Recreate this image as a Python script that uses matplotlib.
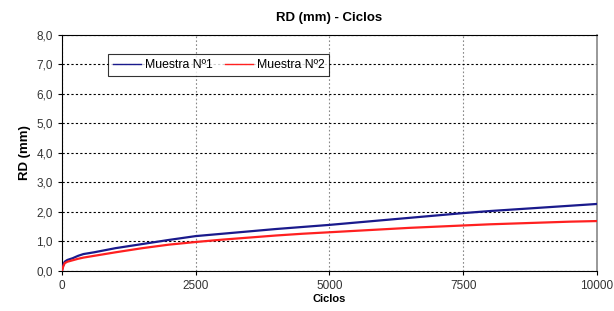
import matplotlib
matplotlib.use("Agg")
from matplotlib import pyplot as plt

plt.rcParams['font.family'] = ['Liberation Sans', 'DejaVu Sans']

# Data
ciclos = [0, 25, 50, 100, 200, 300, 400, 600, 800, 1000, 1500, 2000, 2500,
          3000, 3500, 4000, 4500, 5000, 5500, 6000, 6500, 7000, 7500,
          8000, 8500, 9000, 9500, 10000]
muestra_1 = [0.0, 0.2, 0.3, 0.36, 0.42, 0.5, 0.56, 0.62, 0.69, 0.76, 0.9, 1.04, 1.17,
             1.25, 1.33, 1.41, 1.48, 1.55, 1.63, 1.71, 1.79, 1.87, 1.95,
             2.02, 2.08, 2.14, 2.2, 2.26]
muestra_2 = [0.0, 0.15, 0.25, 0.3, 0.35, 0.4, 0.44, 0.5, 0.56, 0.62, 0.76, 0.88, 0.97,
             1.05, 1.12, 1.19, 1.25, 1.3, 1.35, 1.4, 1.45, 1.49, 1.53,
             1.57, 1.6, 1.63, 1.66, 1.68]
x_ticks = [0, 2500, 5000, 7500, 10000]
y_ticks = [0, 1, 2, 3, 4, 5, 6, 7, 8]

fig = plt.figure(figsize=(6.14, 3.11), dpi=100)
ax = fig.add_axes([0.101, 0.13, 0.871, 0.758])

ax.plot(ciclos, muestra_1, color='#1a1a8c', lw=1.6, label='Muestra Nº1', zorder=3)
ax.plot(ciclos, muestra_2, color='#ff2020', lw=1.6, label='Muestra Nº2', zorder=3)

ax.set_xlim(0, 10000)
ax.set_ylim(0, 8)
ax.set_xticks(x_ticks)
ax.set_yticks(y_ticks)
ax.set_yticklabels([f"{v:.1f}".replace('.', ',') for v in y_ticks])
ax.tick_params(labelsize=8.5, labelcolor='#333333', length=3, direction='out')

# gridlines: horizontal black dashed, vertical grey dotted
ax.yaxis.grid(True, color='black', linestyle=(0, (2, 2)), lw=0.8)
ax.xaxis.grid(True, color='#888888', linestyle=(0, (1.5, 2)), lw=0.8)

for side in ['left', 'bottom', 'top']:
    ax.spines[side].set_color('black')
ax.spines['right'].set_color('#888888')
ax.spines['right'].set_linewidth(1.2)

ax.set_title('RD (mm) - Ciclos', fontsize=9.5, fontweight='bold', pad=10)
ax.set_xlabel('Ciclos', fontsize=8, fontweight='bold', labelpad=2)
ax.set_ylabel('RD (mm)', fontsize=9.5, fontweight='bold', labelpad=4)

leg = ax.legend(loc='upper left', bbox_to_anchor=(0.075, 0.945), ncol=2,
                fontsize=8.8, frameon=True, fancybox=False, handlelength=2.3,
                handletextpad=0.3, columnspacing=1.0, borderpad=0.4)
leg.get_frame().set_edgecolor('black')
leg.get_frame().set_linewidth(0.8)
for line in leg.get_lines():
    line.set_linewidth(1.0)

fig.savefig('out.png', dpi=100)
